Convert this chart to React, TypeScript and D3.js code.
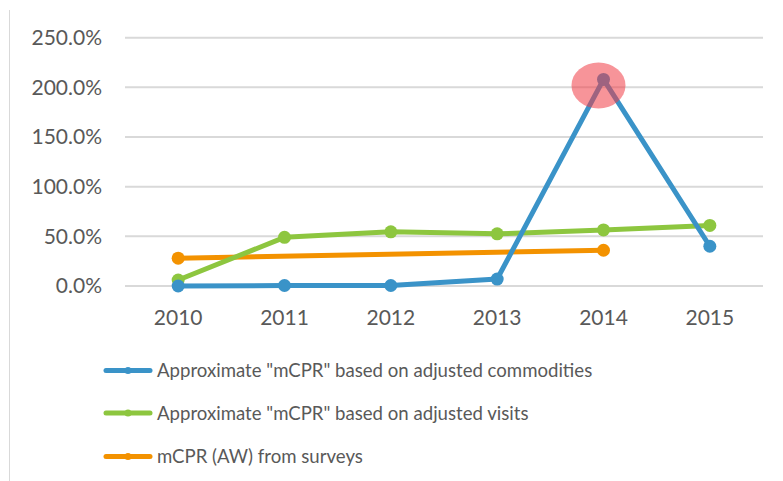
import React, { useEffect, useRef } from 'react';
import * as d3 from 'd3';

const years = ['2010', '2011', '2012', '2013', '2014', '2015'];
const commodities = [0, 0.5, 0.5, 7, 208, 40];
const visits = [6, 49, 54.5, 52.5, 56.5, 61];
const surveys: (number | null)[] = [28, null, null, null, 36, null];
const yTicks = [0, 50, 100, 150, 200, 250];

const seriesNames = [
  'Approximate "mCPR" based on adjusted commodities',
  'Approximate "mCPR" based on adjusted visits',
  'mCPR (AW) from surveys',
];
const seriesColors = ['#3a93c8', '#8dc63f', '#f39200'];

const W = 783;
const H = 481;
const FONT = 'Lato, "Open Sans", sans-serif';

const App: React.FC = () => {
  const svgRef = useRef<SVGSVGElement>(null);

  useEffect(() => {
    if (!svgRef.current) return;
    const svg = d3.select(svgRef.current);
    svg.selectAll('*').remove();

    const x = d3.scalePoint<string>().domain(years).range([125, 763]).padding(0.5);
    const y = d3.scaleLinear().domain([0, 250]).range([286, 37.7]);

    // slide edge line on the left
    svg.append('line')
      .attr('x1', 9.5).attr('x2', 9.5).attr('y1', 10).attr('y2', H)
      .attr('stroke', '#d9d9d9').attr('stroke-width', 1);

    // gridlines
    svg.append('g').selectAll('line').data(yTicks).join('line')
      .attr('x1', 125).attr('x2', 763)
      .attr('y1', d => y(d)).attr('y2', d => y(d))
      .attr('stroke', '#d9d9d9').attr('stroke-width', 2);

    // y labels
    svg.append('g').selectAll('text').data(yTicks).join('text')
      .attr('x', 102).attr('y', d => y(d)).attr('dy', '0.35em')
      .attr('text-anchor', 'end')
      .attr('font-family', FONT).attr('font-size', 21).attr('fill', '#595959')
      .text(d => d3.format('.1f')(d) + '%');

    // x labels
    svg.append('g').selectAll('text').data(years).join('text')
      .attr('x', d => x(d)!).attr('y', 325)
      .attr('text-anchor', 'middle')
      .attr('font-family', FONT).attr('font-size', 21).attr('fill', '#595959')
      .text(d => d);

    const data = [commodities, visits, surveys];
    // draw order: orange, green, blue on top
    [2, 1, 0].forEach(i => {
      const pts = data[i]
        .map((v, j) => ({ year: years[j], v }))
        .filter(p => p.v !== null) as { year: string; v: number }[];
      const line = d3.line<{ year: string; v: number }>()
        .x(p => x(p.year)!).y(p => y(p.v));
      const g = svg.append('g');
      g.append('path').attr('d', line(pts)!)
        .attr('fill', 'none').attr('stroke', seriesColors[i])
        .attr('stroke-width', 5).attr('stroke-linejoin', 'round');
      g.selectAll('circle').data(pts).join('circle')
        .attr('cx', p => x(p.year)!).attr('cy', p => y(p.v))
        .attr('r', 6.5).attr('fill', seriesColors[i]);
    });

    // highlight on the 2014 peak
    svg.append('ellipse')
      .attr('cx', x('2014')! - 5).attr('cy', y(commodities[4]) + 6)
      .attr('rx', 27).attr('ry', 23)
      .attr('fill', 'rgb(240,60,70)').attr('opacity', 0.55);

    // legend
    const lg = svg.append('g');
    const legendY = [370.5, 413, 456.5];
    seriesNames.forEach((name, i) => {
      const row = lg.append('g');
      row.append('line')
        .attr('x1', 106).attr('x2', 150)
        .attr('y1', legendY[i]).attr('y2', legendY[i])
        .attr('stroke', seriesColors[i]).attr('stroke-width', 5)
        .attr('stroke-linecap', 'round');
      row.append('circle').attr('cx', 128).attr('cy', legendY[i]).attr('r', 3.5)
        .attr('fill', seriesColors[i]);
      row.append('text')
        .attr('x', 157).attr('y', legendY[i]).attr('dy', '0.35em')
        .attr('font-family', FONT).attr('font-size', 18.6).attr('fill', '#595959')
        .text(name);
    });
  }, []);

  return (
    <div style={{ position: 'absolute', left: 0, top: 0, width: W, height: H, background: '#fff' }}>
      <svg ref={svgRef} width={W} height={H} viewBox={`0 0 ${W} ${H}`} />
    </div>
  );
};

export default App;
